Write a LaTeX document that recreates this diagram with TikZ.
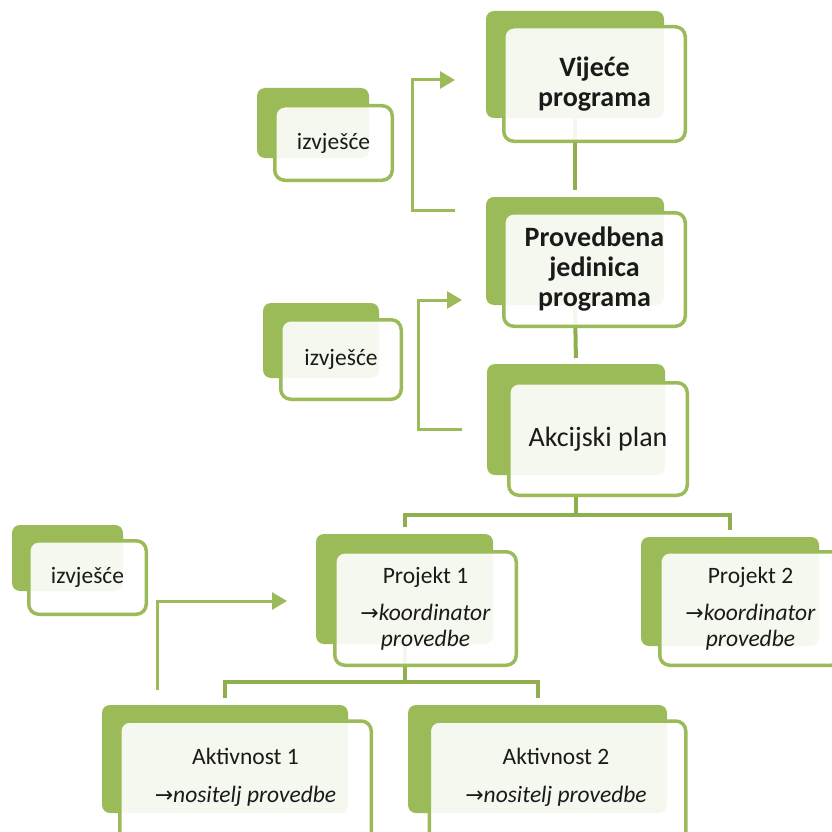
\documentclass[tikz,border=0pt]{standalone}
\usepackage{fontspec}
\setmainfont{Carlito}
\newfontfamily\arrfont{DejaVu Sans}
\usetikzlibrary{arrows.meta,backgrounds,calc}
\definecolor{bgreen}{HTML}{9BBB59}
\definecolor{lgreen}{HTML}{8FAF4F}
\definecolor{txt}{HTML}{1A1A1A}
\newcommand{\myra}{{\arrfont\fontsize{22}{26}\selectfont →}}
\begin{document}
\begin{tikzpicture}[x=1pt,y=-1pt,
 backbox/.style={fill=bgreen, rounded corners=8pt, inner sep=0pt, outer sep=0pt},
 frontbox/.style={draw=bgreen, line width=3.5pt, fill=white, fill opacity=0.9, text opacity=1, text=txt, rounded corners=10pt, inner sep=0pt, outer sep=0pt, align=center},
 plaintext/.style={text=txt, inner sep=0pt, align=center},
 bigtext/.style={font=\fontsize{28}{30}\selectfont},
 smalltext/.style={font=\fontsize{23.5}{26}\selectfont},
 conn/.style={draw=lgreen, line width=4pt},
 fb/.style={draw=bgreen, line width=3pt, -{Triangle[length=15pt,width=17pt]}},
]
\path[use as bounding box] (0,0) rectangle (832,832);
\clip (0,0) rectangle (832,832);

% Vijece programa
\node[backbox, minimum width=178pt, minimum height=107pt] (vb) at (575,64.5) {};
\node[frontbox, bigtext, minimum width=181.5pt, minimum height=114.5pt] (vf) at (594.5,84) {\textbf{Vijeće}\\\textbf{programa}};

% Provedbena jedinica programa
\node[backbox, minimum width=178pt, minimum height=108pt] (pb) at (575,251) {};
\node[frontbox, bigtext, minimum width=181.5pt, minimum height=113.5pt] (pf) at (594.5,269.5) {\textbf{Provedbena}\\\textbf{jedinica}\\\textbf{programa}};

% Akcijski plan
\node[backbox, minimum width=178pt, minimum height=111pt] (ab) at (576,419.5) {};
\node[frontbox, bigtext, minimum width=178.5pt, minimum height=112.5pt] (af) at (598,439) {Akcijski plan};

% izvjesce boxes
\node[backbox, minimum width=112pt, minimum height=70pt] (i1b) at (313,123) {};
\node[frontbox, smalltext, minimum width=117.5pt, minimum height=74.5pt] (i1f) at (333.5,143) {izvješće};

\node[backbox, minimum width=116pt, minimum height=75pt] (i2b) at (321,340.5) {};
\node[frontbox, smalltext, minimum width=120.5pt, minimum height=79.5pt] (i2f) at (341,359.5) {izvješće};

\node[backbox, minimum width=111pt, minimum height=66pt] (i3b) at (67.5,558) {};
\node[frontbox, smalltext, minimum width=117.5pt, minimum height=73.5pt] (i3f) at (87.5,577.5) {izvješće};

% Projekt 1 and 2
\node[backbox, minimum width=177pt, minimum height=110pt] (p1b) at (404.5,589) {};
\node[frontbox, smalltext, minimum width=181.5pt, minimum height=113.5pt] (p1f) at (425.5,608.5) {Projekt 1\\[11pt]\myra\textit{koordinator}\\\textit{provedbe}};

\node[backbox, minimum width=178pt, minimum height=109pt] (p2b) at (730,591.5) {};
\node[frontbox, smalltext, minimum width=181.5pt, minimum height=113.5pt] (p2f) at (750.5,608.5) {Projekt 2\\[11pt]\myra\textit{koordinator}\\\textit{provedbe}};

% Aktivnost 1 and 2 (front boxes run past the lower edge)
\node[backbox, minimum width=246pt, minimum height=108pt] (a1b) at (225,759) {};
\node[frontbox, minimum width=251.5pt, minimum height=130pt] (a1f) at (245.5,786) {};
\node[plaintext, smalltext] (a1t) at (245.5,777.5) {Aktivnost 1\\[12pt]\myra\textit{nositelj provedbe}};

\node[backbox, minimum width=259pt, minimum height=108pt] (a2b) at (537.5,759) {};
\node[frontbox, minimum width=256.5pt, minimum height=130pt] (a2f) at (557.5,786) {};
\node[plaintext, smalltext] (a2t) at (556,777.5) {Aktivnost 2\\[12pt]\myra\textit{nositelj provedbe}};

% feedback arrow end points
\coordinate (r1s) at (455,210);
\coordinate (r1e) at (455,80);
\coordinate (r2s) at (462,429);
\coordinate (r2e) at (462,300);
\coordinate (r3s) at (157,690);
\coordinate (r3e) at (287,601);

\begin{pgfonlayer}{background}
\draw[conn, shorten >=7pt] (vb.south) -- (pb.north);
\draw[conn, shorten >=6pt] (pb.south) -- (ab.north);
\draw[conn] (af.south -| ab.south) -- ++(0,20) coordinate (j1);
\draw[conn, shorten <=7pt, shorten >=7pt] (p1b.north) |- (j1) -| (p2b.north);
\draw[conn] (p1b.south) -- (p1f.south -| p1b.south) -- ++(0,17) coordinate (j2);
\draw[conn, shorten <=7pt, shorten >=7pt] (a1b.north) |- (j2) -| (a2b.north);
\end{pgfonlayer}

\draw[fb] (r1s) -- ++(-43,0) |- (r1e);
\draw[fb] (r2s) -- ++(-44,0) |- (r2e);
\draw[fb] (r3s) |- (r3e);
\end{tikzpicture}
\end{document}
